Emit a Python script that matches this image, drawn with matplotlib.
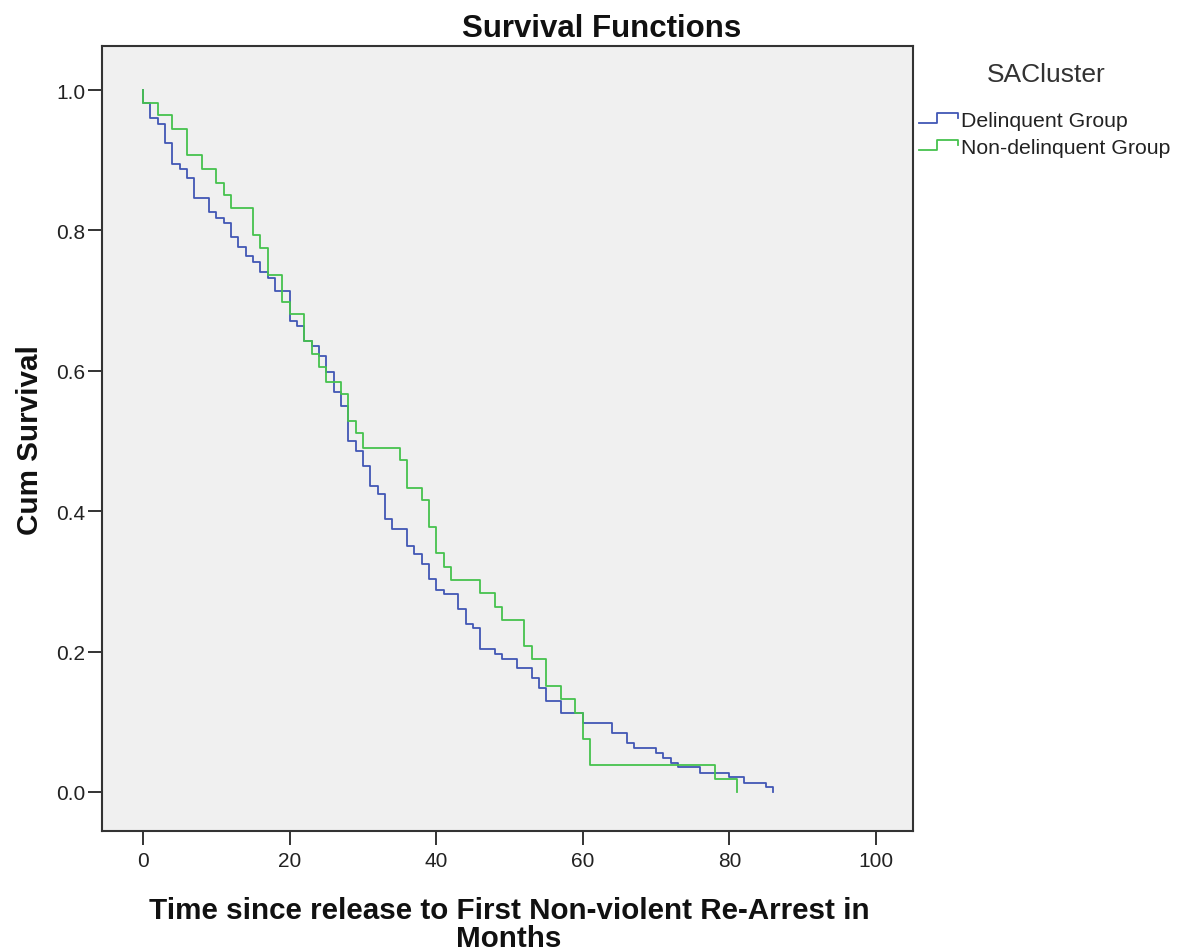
import matplotlib
matplotlib.use("Agg")
import matplotlib.pyplot as plt
from matplotlib.lines import Line2D
from matplotlib.legend_handler import HandlerBase

plt.rcParams['font.family'] = ['Liberation Sans', 'DejaVu Sans']

# Delinquent Group (blue) - step times and survival after each step
deli_t = [0, 0, 1, 2, 3, 4, 5, 6, 7, 9, 10, 11, 12, 13, 14, 15, 16, 17, 18, 20,
          21, 22, 23, 24, 25, 26, 27, 28, 29, 30, 31, 32, 33, 34, 36, 37, 38, 39,
          40, 41, 43, 44, 45, 46, 48, 49, 51, 53, 54, 55, 57, 60, 64, 66, 67, 70,
          71, 72, 73, 76, 80, 82, 85, 86]
deli_s = [1.0, 0.981, 0.960, 0.952, 0.925, 0.895, 0.888, 0.874, 0.846, 0.826, 0.818,
          0.811, 0.790, 0.776, 0.764, 0.755, 0.741, 0.732, 0.713, 0.671, 0.664, 0.643,
          0.635, 0.621, 0.598, 0.570, 0.550, 0.500, 0.486, 0.465, 0.436, 0.424, 0.389,
          0.375, 0.351, 0.339, 0.325, 0.304, 0.288, 0.282, 0.261, 0.240, 0.233, 0.204,
          0.197, 0.190, 0.176, 0.162, 0.148, 0.130, 0.113, 0.098, 0.084, 0.070, 0.063,
          0.055, 0.049, 0.041, 0.035, 0.027, 0.021, 0.013, 0.007, 0.0]

# Non-delinquent Group (green)
nond_t = [0, 0, 2, 4, 6, 8, 10, 11, 12, 15, 16, 17, 19, 20, 22, 23, 24, 25, 27, 28,
          29, 30, 35, 36, 38, 39, 40, 41, 42, 46, 48, 49, 52, 53, 55, 57, 59, 60, 61,
          78, 81]
nond_s = [1.0, 0.982, 0.965, 0.945, 0.907, 0.888, 0.868, 0.851, 0.832, 0.794, 0.775,
          0.737, 0.698, 0.681, 0.643, 0.624, 0.605, 0.584, 0.567, 0.529, 0.511, 0.490,
          0.473, 0.433, 0.416, 0.378, 0.340, 0.321, 0.302, 0.283, 0.264, 0.245, 0.208,
          0.189, 0.151, 0.132, 0.113, 0.075, 0.038, 0.019, 0.0]

x_ticks = [0, 20, 40, 60, 80, 100]
y_ticks = [0.0, 0.2, 0.4, 0.6, 0.8, 1.0]
y_tick_labels = ['0.0', '0.2', '0.4', '0.6', '0.8', '1.0']
series_names = ['Delinquent Group', 'Non-delinquent Group']
colors = ['#4157B5', '#46C24E']

W, H = 1180, 953
fig = plt.figure(figsize=(W / 100, H / 100), dpi=100)
fig.patch.set_facecolor('white')
ax = fig.add_axes([102 / W, 1 - 832 / H, (913 - 102) / W, (832 - 47) / H])
ax.set_facecolor('#F0F0F0')

l1, = ax.step(deli_t, deli_s, where='post', color=colors[0], lw=1.3)
l2, = ax.step(nond_t, nond_s, where='post', color=colors[1], lw=1.3)

ax.set_xlim(-5.6, 105.05)
ax.set_ylim(-0.0556, 1.0627)
ax.set_xticks(x_ticks)
ax.set_xticklabels([str(v) for v in x_ticks])
ax.set_yticks(y_ticks)
ax.set_yticklabels(y_tick_labels)
ax.tick_params(axis='both', direction='out', length=10, width=1.4, color='#333333',
               labelsize=15, labelcolor='#222222')
ax.tick_params(axis='x', pad=4.5)
ax.tick_params(axis='y', pad=2)
for sp in ax.spines.values():
    sp.set_color('#333333')
    sp.set_linewidth(1.5)

fig.text(602 / W, 1 - 29 / H, 'Survival Functions', ha='center', va='center',
         fontsize=22.5, fontweight='bold', color='#111111')
fig.text(30 / W, 1 - 440 / H, 'Cum Survival', ha='center', va='center', rotation=90,
         fontsize=21.3, fontweight='bold', color='#111111')
fig.text(509 / W, 1 - 925 / H, 'Time since release to First Non-violent Re-Arrest in\nMonths',
         ha='center', va='center', fontsize=21.3, fontweight='bold', color='#111111',
         linespacing=1.0)


class StepHandler(HandlerBase):
    def create_artists(self, legend, orig_handle, xdescent, ydescent, width, height,
                       fontsize, trans):
        x0 = -xdescent
        y0 = -ydescent
        xs = [x0, x0 + width * 0.46, x0 + width * 0.46, x0 + width, x0 + width]
        ys = [y0 + height * 0.23, y0 + height * 0.23, y0 + height * 0.9, y0 + height * 0.9,
              y0 + height * 0.57]
        ln = Line2D(xs, ys, color=orig_handle.get_color(), lw=1.3, transform=trans)
        return [ln]


fig.text(1046 / W, 1 - 75 / H, 'SACluster', ha='center', va='center', fontsize=19,
         color='#333333')
leg = fig.legend([l1, l2], series_names, loc='upper left',
                 bbox_to_anchor=(919 / W, 1 - 112 / H), frameon=False,
                 fontsize=15.3, handler_map={Line2D: StepHandler()},
                 handlelength=1.84, handletextpad=0.15, labelspacing=0.38,
                 borderaxespad=0, borderpad=0)
for t in leg.get_texts():
    t.set_color('#222222')

fig.savefig('out.png', dpi=100, facecolor='white')
